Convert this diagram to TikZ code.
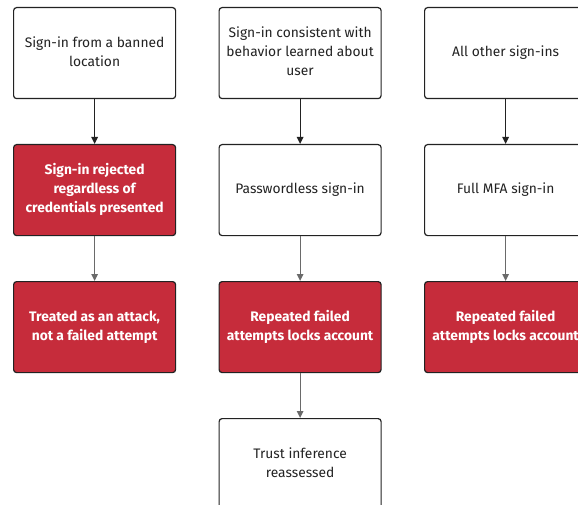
\documentclass[tikz,border=0pt]{standalone}
\usepackage{fontspec}
\setmainfont{Fira Sans}
\usetikzlibrary{arrows.meta}
\definecolor{alertred}{HTML}{C62C3B}
\definecolor{ink}{HTML}{222222}
\definecolor{greyline}{HTML}{6A6A6A}
% centred lines of box text, lifted slightly above the box centre
\newcommand\boxlines[1]{\raisebox{2pt}{\begin{tabular}{@{}c@{}}#1\end{tabular}}}

\begin{document}
\begin{tikzpicture}[x=1pt,y=-1pt,
  box/.style={draw=ink, line width=1.2pt, rounded corners=3pt,
    minimum width=162pt, minimum height=91pt, inner sep=0pt,
    anchor=north west},
  plainbox/.style={box, fill=white, text=ink,
    font=\fontsize{13.8}{19}\selectfont},
  alertbox/.style={box, fill=alertred, text=white,
    font=\bfseries\fontsize{13.8}{19}\selectfont},
  darklink/.style={draw=ink, line width=1.1pt,
    -{Triangle[length=7pt,width=6.5pt]}},
  greylink/.style={draw=greyline, line width=1.1pt,
    -{Triangle[length=7pt,width=6.5pt]}}]
\useasboundingbox (0,0) rectangle (578,505);
\clip (0,0) rectangle (578,505);

% column 1
\node[plainbox] (a1) at (13,7)   {\boxlines{Sign-in from a banned\\location}};
\node[alertbox] (a2) at (13,144) {\boxlines{Sign-in rejected\\regardless of\\credentials presented}};
\node[alertbox] (a3) at (13,281) {\boxlines{Treated as an attack,\\not a failed attempt}};

% column 2
\node[plainbox] (b1) at (218.5,7)   {\boxlines{Sign-in consistent with\\behavior learned about\\user}};
\node[plainbox] (b2) at (218.5,144) {\boxlines{Passwordless sign-in}};
\node[alertbox] (b3) at (218.5,281) {\boxlines{Repeated failed\\attempts locks account}};
\node[plainbox] (b4) at (218.5,418) {\boxlines{Trust inference\\reassessed}};

% column 3
\node[plainbox] (c1) at (424,7)   {\boxlines{All other sign-ins}};
\node[plainbox] (c2) at (424,144) {\boxlines{Full MFA sign-in}};
\node[alertbox] (c3) at (424,281) {\boxlines{Repeated failed\\attempts locks account}};

% connectors
\draw[darklink] (a1.south) -- (a2.north);
\draw[greylink] (a2.south) -- (a3.north);
\draw[darklink] (b1.south) -- (b2.north);
\draw[greylink] (b2.south) -- (b3.north);
\draw[greylink] (b3.south) -- (b4.north);
\draw[darklink] (c1.south) -- (c2.north);
\draw[greylink] (c2.south) -- (c3.north);
\end{tikzpicture}
\end{document}
